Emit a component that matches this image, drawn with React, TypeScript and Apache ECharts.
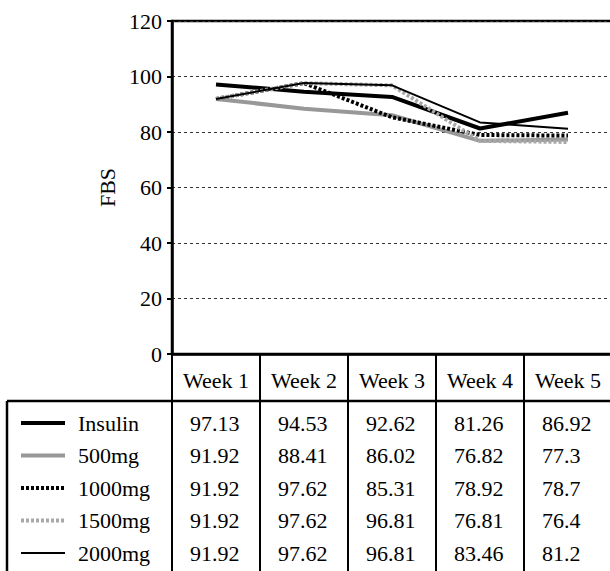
import React, { useEffect, useRef } from "react";
import * as echarts from "echarts";

const categories = ["Week 1", "Week 2", "Week 3", "Week 4", "Week 5"];
const seriesNames = ["Insulin", "500mg", "1000mg", "1500mg", "2000mg"];
const insulin = [97.13, 94.53, 92.62, 81.26, 86.92];
const mg500 = [91.92, 88.41, 86.02, 76.82, 77.3];
const mg1000 = [91.92, 97.62, 85.31, 78.92, 78.7];
const mg1500 = [91.92, 97.62, 96.81, 76.81, 76.4];
const mg2000 = [91.92, 97.62, 96.81, 83.46, 81.2];
const seriesValues = [insulin, mg500, mg1000, mg1500, mg2000];
const yMin = 0;
const yMax = 120;
const yStep = 20;

const FONT = "'Times New Roman', 'Liberation Serif', serif";
const lineStyles = [
  { color: "#000000", width: 4, type: "solid" as any },
  { color: "#989898", width: 4, type: "solid" as any },
  { color: "#000000", width: 4, type: [3, 2] as any },
  { color: "#a8a8a8", width: 4, type: [3, 2] as any },
  { color: "#000000", width: 2, type: "solid" as any },
];
const rowY = [423, 455.5, 488, 520.5, 553];

export default function App() {
  const ref = useRef<HTMLDivElement>(null);
  useEffect(() => {
    if (!ref.current) return;
    const chart = echarts.init(ref.current, undefined, { renderer: "svg" });
    chart.setOption({
      animation: false,
      backgroundColor: "#ffffff",
      textStyle: { fontFamily: FONT, color: "#000" },
      grid: {
        left: 172,
        right: 0,
        top: 21,
        bottom: 217,
        show: true,
        borderColor: "#000",
        borderWidth: 2.5,
        backgroundColor: "transparent",
      },
      xAxis: {
        type: "category",
        data: categories,
        boundaryGap: true,
        axisLine: { show: true, lineStyle: { color: "#000", width: 2.5 } },
        axisTick: { show: true, interval: 0, length: 230, lineStyle: { color: "#000", width: 2 } },
        axisLabel: { interval: 0, margin: 15, fontSize: 22, color: "#000", fontFamily: FONT },
        splitLine: { show: false },
      },
      yAxis: {
        type: "value",
        min: yMin,
        max: yMax,
        interval: yStep,
        name: "FBS",
        nameLocation: "middle",
        nameGap: 48,
        nameTextStyle: { fontSize: 22, color: "#000", fontFamily: FONT },
        axisLine: { show: true, lineStyle: { color: "#000", width: 2.5 } },
        axisTick: { show: true, length: 5, lineStyle: { color: "#000", width: 2 } },
        axisLabel: { margin: 10, fontSize: 22, color: "#000", fontFamily: FONT },
        splitLine: { show: true, lineStyle: { color: "#333", width: 1, type: [3, 3] } },
      },
      series: seriesNames.map((name, i) => ({
        name,
        type: "line",
        data: seriesValues[i],
        symbol: "none",
        lineStyle: lineStyles[i],
        z: 2 + i,
      })),
    });

    const centers = categories.map((c) => chart.convertToPixel({ xAxisIndex: 0 }, c) as number);
    const graphics: any[] = [];
    graphics.push({
      type: "line",
      shape: { x1: 7, y1: 401, x2: 612, y2: 401 },
      style: { stroke: "#000", lineWidth: 2.5 },
      z: 10,
    });
    graphics.push({
      type: "line",
      shape: { x1: 7, y1: 401, x2: 7, y2: 600 },
      style: { stroke: "#000", lineWidth: 2.5 },
      z: 10,
    });
    seriesNames.forEach((name, i) => {
      const y = rowY[i];
      graphics.push({
        type: "line",
        shape: { x1: 21, y1: y, x2: 65, y2: y },
        style: {
          stroke: lineStyles[i].color,
          lineWidth: lineStyles[i].width,
          lineDash: Array.isArray(lineStyles[i].type) ? lineStyles[i].type : null,
        },
        z: 10,
      });
      graphics.push({
        type: "text",
        x: 78,
        y,
        style: { text: name, fontSize: 22, fontFamily: FONT, fill: "#000", verticalAlign: "middle", align: "left" },
        z: 10,
      });
      seriesValues[i].forEach((v, j) => {
        graphics.push({
          type: "text",
          x: centers[j] - 26,
          y,
          style: { text: String(v), fontSize: 22, fontFamily: FONT, fill: "#000", verticalAlign: "middle", align: "left" },
          z: 10,
        });
      });
    });
    chart.setOption({ graphic: graphics });
    return () => chart.dispose();
  }, []);
  return (
    <div style={{ position: "fixed", left: 0, top: 0, width: 610, height: 571, overflow: "hidden", background: "#fff" }}>
      <div ref={ref} style={{ width: 612, height: 571 }} />
    </div>
  );
}
